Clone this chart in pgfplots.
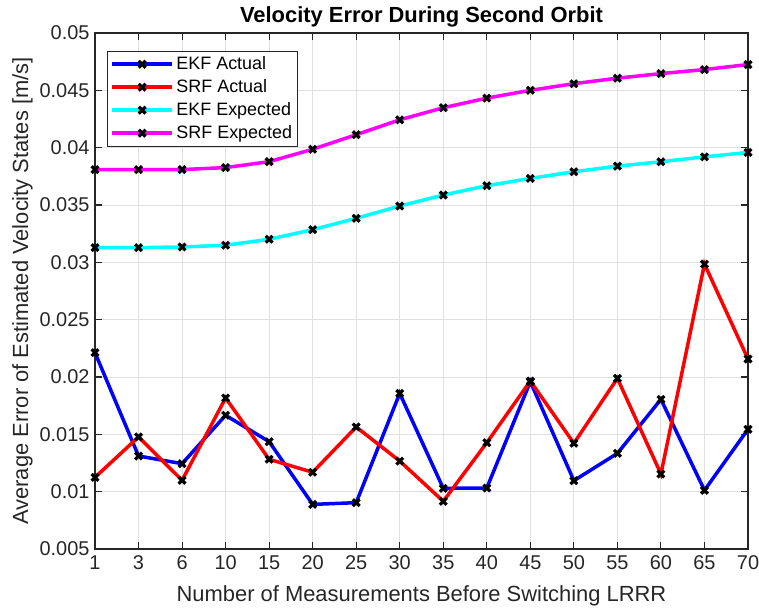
\documentclass[border=0pt]{standalone}
\usepackage{fontspec}
\setmainfont{Liberation Sans}
\usepackage{pgfplots}
\usepackage{pgfplotstable}
\pgfplotsset{compat=1.18}

\definecolor{axgray}{RGB}{38,38,38}
\definecolor{gridgray}{RGB}{224,224,224}
\definecolor{lblue}{rgb}{0,0,1}
\definecolor{lred}{rgb}{1,0,0}
\definecolor{lcyan}{rgb}{0,1,1}
\definecolor{lmagenta}{rgb}{1,0,1}

% idx: category position; n: number of measurements before switching LRRR
\pgfplotstableread{
idx n  ekfa    srfa    ekfe    srfe
0   1  0.02212 0.01125 0.03128 0.03809
1   3  0.01311 0.01477 0.03128 0.03809
2   6  0.01244 0.01099 0.03134 0.03809
3   10 0.01666 0.01817 0.03149 0.03826
4   15 0.01436 0.01282 0.03201 0.03878
5   20 0.00889 0.01169 0.03285 0.03986
6   25 0.00904 0.01564 0.03384 0.04113
7   30 0.01857 0.01267 0.03491 0.04243
8   35 0.01029 0.00916 0.03587 0.04348
9   40 0.01032 0.01427 0.03668 0.04432
10  45 0.01959 0.01965 0.03732 0.04500
11  50 0.01096 0.01422 0.03790 0.04558
12  55 0.01334 0.01988 0.03839 0.04606
13  60 0.01805 0.01154 0.03877 0.04646
14  65 0.01012 0.02985 0.03920 0.04681
15  70 0.01544 0.02157 0.03958 0.04725
}\velerr

\begin{document}
\begin{tikzpicture}
\begin{axis}[
  name=ax,
  scale only axis,
  width=653bp, height=516bp,
  xmin=0, xmax=15, ymin=0.005, ymax=0.05,
  xtick={0,...,15},
  xticklabels={1,3,6,10,15,20,25,30,35,40,45,50,55,60,65,70},
  ytick={0.005,0.01,0.015,0.02,0.025,0.03,0.035,0.04,0.045,0.05},
  yticklabels={0.005,0.01,0.015,0.02,0.025,0.03,0.035,0.04,0.045,0.05},
  scaled y ticks=false,
  /pgf/number format/assume math mode=true,
  tick pos=both,
  tick align=inside,
  major tick length=7bp,
  axis line style={axgray, line width=1.1bp},
  tick style={axgray, line width=1.1bp},
  grid=major,
  major grid style={gridgray, line width=0.9bp},
  ticklabel style={font=\fontsize{20}{24}\selectfont, text=axgray},
  xticklabel style={yshift=-3bp},
  yticklabel style={xshift=-2bp},
  title={Velocity Error During Second Orbit},
  title style={font=\bfseries\fontsize{22}{26}\selectfont, at={(axis description cs:0.5,1)}, anchor=base, yshift=5bp},
  xlabel={Number of Measurements Before Switching LRRR},
  xlabel style={font=\fontsize{22}{26}\selectfont, text=axgray, at={(axis description cs:0.5,0)}, anchor=base, yshift=-53bp},
  ylabel={Average Error of Estimated Velocity States [m/s]},
  ylabel style={font=\fontsize{22}{26}\selectfont, text=axgray, at={(axis description cs:-0.1026,0.5)}, anchor=base},
  legend cell align=left,
  legend style={at={(axis description cs:0.0184,0.965)}, anchor=north west,
    draw=axgray, line width=0.9bp, fill=white,
    font=\fontsize{18}{21}\selectfont,
    inner xsep=3bp, inner ysep=3bp, row sep=3.5bp,
    nodes={inner sep=2.5bp}},
  legend image code/.code={\draw[mark repeat=2, mark phase=2] plot coordinates {(0bp,0bp) (30bp,0bp) (60bp,0bp)};},
  every axis plot/.append style={line width=3.5bp, mark=x, mark size=4.8bp,
    mark options={draw=black, line width=3.2bp, solid}},
]
\addplot[lblue]    table[x=idx, y=ekfa] {\velerr};
\addplot[lred]     table[x=idx, y=srfa] {\velerr};
\addplot[lcyan]    table[x=idx, y=ekfe] {\velerr};
\addplot[lmagenta] table[x=idx, y=srfe] {\velerr};
\legend{EKF Actual, SRF Actual, EKF Expected, SRF Expected}
\end{axis}
\pgfresetboundingbox
\path ([shift={(-95bp,-61bp)}]ax.south west) rectangle ([shift={(11bp,33bp)}]ax.north east);
\end{tikzpicture}
\end{document}
